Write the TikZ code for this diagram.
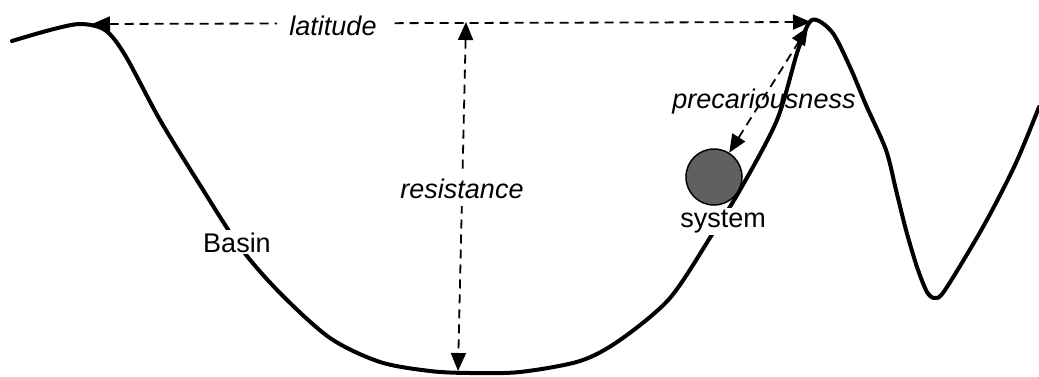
\documentclass[tikz,border=0pt]{standalone}
\usepackage{fontspec}
\setmainfont{Liberation Sans}
\usetikzlibrary{arrows.meta}
\begin{document}
\begin{tikzpicture}[x=1pt,y=-1pt,
  curve/.style={line width=4pt, line cap=round, line join=round},
  measure/.style={dash pattern=on 9pt off 6pt, line width=1.8pt,
    {Triangle[length=18pt,width=15pt]}-{Triangle[length=18pt,width=15pt]}},
  lbl/.style={font=\fontsize{27}{30}\selectfont\itshape, inner sep=3pt, anchor=base},
  plainlbl/.style={font=\fontsize{27}{30}\selectfont, inner sep=2pt, anchor=base}]
\useasboundingbox (0,0) rectangle (1039,376);
% landscape
\draw[curve] plot[smooth, tension=0.5] coordinates {
  (12,41) (50,30) (80,24) (105,30) (125,55) (160,120) (200,185) (240,247)
  (280,293) (330,338) (380,362) (430,371) (470,373) (520,372) (580,361)
  (620,340) (670,298) (713,233) (740,190) (777,120) (798,50) (812,20)
  (832,32) (850,67) (866,105) (886,150) (896,190) (906,230) (917,267)
  (927,292) (935,298) (945,290) (983,227) (1015,165) (1039,107)};
% coordinates
\coordinate (latL) at (92,24);
\coordinate (latR) at (811,22);
\coordinate (resT) at (466,22);
\coordinate (resB) at (458,371);
\coordinate (preT) at (808,27);
% system ball
\node[circle, draw, line width=1.5pt, fill={rgb,255:red,96;green,96;blue,96},
  minimum size=56pt, inner sep=0pt] (sys) at (714,177) {};
% measures
\draw[measure] (latL) -- (latR);
\draw[measure] (resT) -- (resB);
\draw[measure] (sys) -- (preT);
% labels
\node[lbl, fill=white, inner xsep=12pt] (lat) at (333,35) {latitude};
\node[lbl, fill=white, inner ysep=8pt] (res) at (462,198) {resistance};
\node[lbl] (pre) at (764,108) {precariousness};
\node[plainlbl, fill=white] (systxt) at (723,227) {system};
\node[plainlbl, fill=white] (basin) at (237,252) {Basin};
\end{tikzpicture}
\end{document}
